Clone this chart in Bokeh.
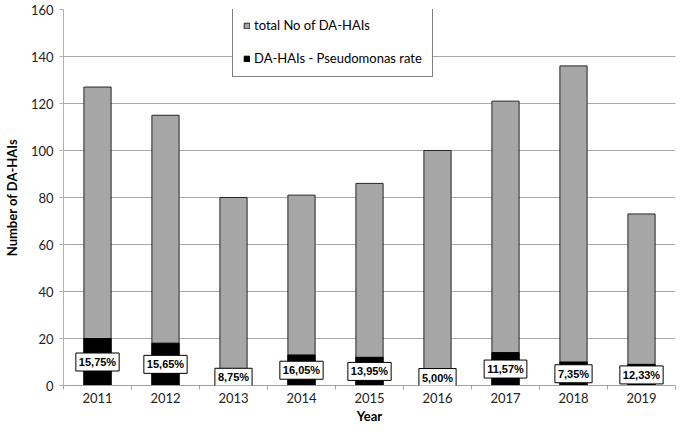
from bokeh.plotting import figure
from bokeh.models import ColumnDataSource, FixedTicker, Legend, LegendItem, Range1d, Label
from bokeh.embed import file_html
from bokeh.resources import INLINE

years = [2011, 2012, 2013, 2014, 2015, 2016, 2017, 2018, 2019]
total_hais = [127, 115, 80, 81, 86, 100, 121, 136, 73]
pseudomonas = [20, 18, 7, 13, 12, 5, 14, 10, 9]
rate_labels = ["15,75%", "15,65%", "8,75%", "16,05%", "13,95%", "5,00%", "11,57%", "7,35%", "12,33%"]
y_ticks = [0, 20, 40, 60, 80, 100, 120, 140, 160]

src = ColumnDataSource(dict(x=years, total=total_hais, ps=pseudomonas))

p = figure(width=677, height=426, output_backend="svg", toolbar_location=None,
           x_range=Range1d(years[0] - 0.5, years[-1] + 0.5),
           y_range=Range1d(0, 160),
           min_border_left=44, min_border_right=2, min_border_top=9, min_border_bottom=36)
p.outline_line_color = None
p.background_fill_color = "white"

g = p.vbar(x="x", top="total", bottom=0, width=0.4, source=src,
           fill_color="#a6a6a6", line_color="#262626", line_width=1)
b = p.vbar(x="x", top="ps", bottom=0, width=0.4, source=src,
           fill_color="black", line_color="black", line_width=1)

for yr, v, txt in zip(years, pseudomonas, rate_labels):
    ly = max(v / 2, 3.4)
    p.add_layout(Label(x=yr, y=ly, text=txt, level="overlay",
                       text_font="Liberation Sans", text_font_style="bold",
                       text_font_size="11px", text_align="center", text_baseline="middle",
                       text_color="black", background_fill_color="white",
                       border_line_color="black", border_line_width=1, padding=3))

# axes
p.xaxis.ticker = FixedTicker(ticks=years, minor_ticks=[y - 0.5 for y in years] + [years[-1] + 0.5])
p.xaxis.major_label_overrides = {y: str(y) for y in years}
p.xaxis.major_tick_out = 0
p.xaxis.major_tick_in = 0
p.xaxis.minor_tick_out = 4
p.xaxis.minor_tick_in = 0
p.xaxis.minor_tick_line_color = "#a0a0a0"
p.xaxis.axis_line_color = "#a0a0a0"
p.xaxis.axis_label = "Year"

p.yaxis.ticker = FixedTicker(ticks=y_ticks)
p.yaxis.major_tick_out = 4
p.yaxis.major_tick_in = 0
p.yaxis.minor_tick_line_color = None
p.yaxis.major_tick_line_color = "#b0b0b0"
p.yaxis.axis_line_color = "#b0b0b0"
p.yaxis.axis_label = "Number of DA-HAIs"

for ax in (p.xaxis[0], p.yaxis[0]):
    ax.major_label_text_font = "Lato"
    ax.major_label_text_font_size = "13px"
    ax.major_label_text_color = "#222222"
    ax.axis_label_text_font = "Lato"
    ax.axis_label_text_font_size = "13px"
    ax.axis_label_text_font_style = "bold"
    ax.axis_label_text_color = "black"
p.xaxis.major_label_standoff = 3
p.xaxis.axis_label_standoff = 2
p.yaxis.major_label_standoff = 6
p.yaxis.axis_label_standoff = 8

p.xgrid.grid_line_color = None
p.ygrid.ticker = FixedTicker(ticks=y_ticks)
p.ygrid.grid_line_color = "#a8a8a8"
p.ygrid.grid_line_width = 1

legend = Legend(items=[LegendItem(label="total No of DA-HAIs", renderers=[g]),
                       LegendItem(label="DA-HAIs - Pseudomonas rate", renderers=[b])],
                location=(169, 308), orientation="vertical")
legend.label_text_font = "Lato"
legend.label_text_font_size = "13px"
legend.label_text_color = "black"
legend.glyph_width = 7
legend.glyph_height = 7
legend.label_standoff = 4
legend.label_height = 16
legend.label_width = 162
legend.spacing = 17
legend.padding = 10
legend.border_line_color = "black"
legend.border_line_width = 1
legend.background_fill_color = "white"
legend.background_fill_alpha = 1
legend.margin = 0
p.add_layout(legend, "center")

open("out.html", "w").write(file_html(p, INLINE))
